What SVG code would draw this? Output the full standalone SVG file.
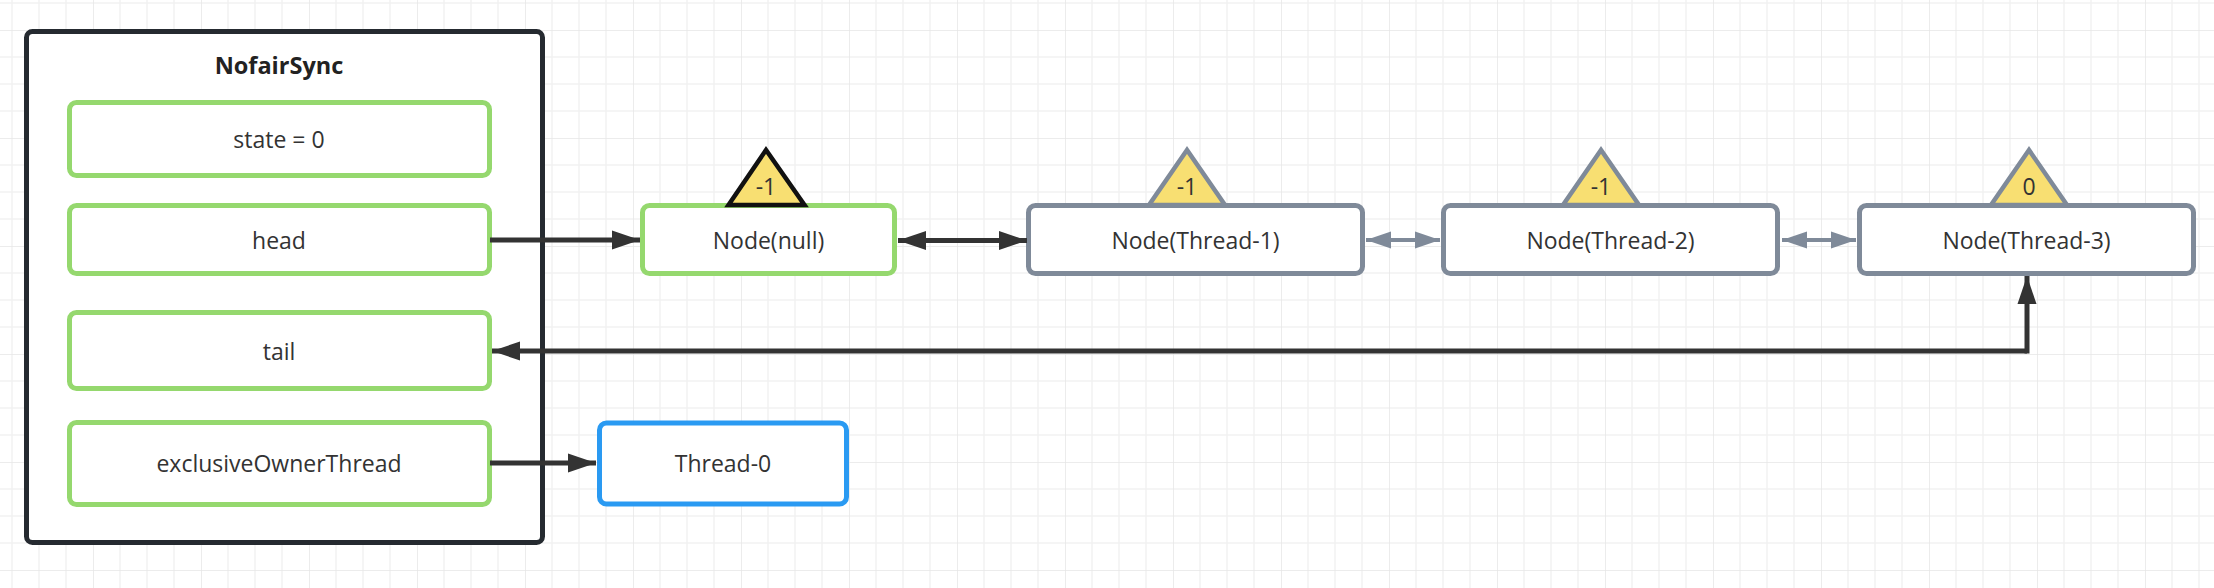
<svg xmlns="http://www.w3.org/2000/svg" width="2214" height="588" viewBox="0 0 2214 588">
<style>
  .txt{font-family:"Open Sans","Liberation Sans",sans-serif;font-size:23px;fill:#333;text-anchor:middle;dominant-baseline:central}
  .title{font-family:"Open Sans","Liberation Sans",sans-serif;font-size:23.5px;font-weight:bold;fill:#222;text-anchor:middle;dominant-baseline:central}
  .field{fill:#fff;stroke:#95d86e;stroke-width:5}
  .gnode{fill:#fff;stroke:#7f8a99;stroke-width:5}
  .tri{fill:#f8df72;stroke-width:4.5;stroke-linejoin:miter}
  .dark{fill:none;stroke:#333;stroke-width:5}
  .grey{fill:none;stroke:#7f8a99;stroke-width:4}
</style>
<defs>
  <pattern id="grid" patternUnits="userSpaceOnUse" x="-15" y="30" width="108" height="108">
    <path d="M27 0V108M54 0V108M81 0V108M0 27H108M0 54H108M0 81H108" stroke="#f2f2f2" stroke-width="1.5" fill="none"/>
    <path d="M0 0V108M0 0H108" stroke="#e6e6e6" stroke-width="1.5" fill="none"/>
  </pattern>
  <marker id="ahDark" markerUnits="userSpaceOnUse" markerWidth="30" markerHeight="22" refX="28" refY="10" orient="auto-start-reverse">
    <path d="M0 0.5L28 10L0 19.5Z" fill="#333"/>
  </marker>
  <marker id="ahGrey" markerUnits="userSpaceOnUse" markerWidth="28" markerHeight="20" refX="25" refY="9" orient="auto-start-reverse">
    <path d="M0 0.5L25 9L0 17.5Z" fill="#7f8a99"/>
  </marker>
</defs>
<rect width="2214" height="588" fill="#fff"/>
<rect width="2214" height="588" fill="url(#grid)"/>

<g id="NofairSync">
  <rect x="26.5" y="31.5" width="516" height="511" rx="6" fill="#fff" stroke="#252a30" stroke-width="5"/>
  <text class="title" x="279" y="65">NofairSync</text>
</g>
<g id="state">
  <rect class="field" x="69.5" y="102.5" width="420" height="73" rx="7"/>
  <text class="txt" x="279" y="139">state = 0</text>
</g>
<g id="head">
  <rect class="field" x="69.5" y="205.5" width="420" height="68" rx="7"/>
  <text class="txt" x="279" y="239.5">head</text>
</g>
<g id="tail">
  <rect class="field" x="69.5" y="312.5" width="420" height="76" rx="7"/>
  <text class="txt" x="279" y="351">tail</text>
</g>
<g id="exclusiveOwnerThread">
  <rect class="field" x="69.5" y="422.5" width="420" height="82" rx="7"/>
  <text class="txt" x="279" y="463">exclusiveOwnerThread</text>
</g>
<g id="thread0">
  <rect x="599.5" y="423" width="247" height="81" rx="7" fill="#fff" stroke="#2a9af2" stroke-width="5"/>
  <text class="txt" x="723" y="463">Thread-0</text>
</g>
<g id="nodeNull">
  <rect class="field" x="642.5" y="205.5" width="252" height="68" rx="7"/>
  <text class="txt" x="768.5" y="240">Node(null)</text>
  <polygon class="tri" points="766,150 728.5,205 804.5,205" stroke="#111"/>
  <text class="txt" x="766" y="186">-1</text>
</g>
<g id="nodeThread1">
  <rect class="gnode" x="1028.5" y="205.5" width="334" height="68" rx="7"/>
  <text class="txt" x="1195.5" y="240">Node(Thread-1)</text>
  <polygon class="tri" points="1187,150 1149,205 1225,205" stroke="#7f8a99"/>
  <text class="txt" x="1187" y="186">-1</text>
</g>
<g id="nodeThread2">
  <rect class="gnode" x="1443.5" y="205.5" width="334" height="68" rx="7"/>
  <text class="txt" x="1610.5" y="240">Node(Thread-2)</text>
  <polygon class="tri" points="1601,150 1563,205 1639,205" stroke="#7f8a99"/>
  <text class="txt" x="1601" y="186">-1</text>
</g>
<g id="nodeThread3">
  <rect class="gnode" x="1859.5" y="205.5" width="334" height="68" rx="7"/>
  <text class="txt" x="2026.5" y="240">Node(Thread-3)</text>
  <polygon class="tri" points="2029,150 1991,205 2067,205" stroke="#7f8a99"/>
  <text class="txt" x="2029" y="186">0</text>
</g>

<g id="connectors">
  <path class="dark" d="M490 240H640" marker-end="url(#ahDark)"/>
  <path class="dark" d="M898 240.5H1027" marker-start="url(#ahDark)" marker-end="url(#ahDark)"/>
  <path class="grey" d="M1366 240H1440" marker-start="url(#ahGrey)" marker-end="url(#ahGrey)"/>
  <path class="grey" d="M1782 240H1856" marker-start="url(#ahGrey)" marker-end="url(#ahGrey)"/>
  <path class="dark" d="M2027 351H492" marker-end="url(#ahDark)"/>
  <path class="dark" d="M2027 353.5V276" marker-end="url(#ahDark)"/>
  <path class="dark" d="M490 463H596" marker-end="url(#ahDark)"/>
</g>
</svg>
